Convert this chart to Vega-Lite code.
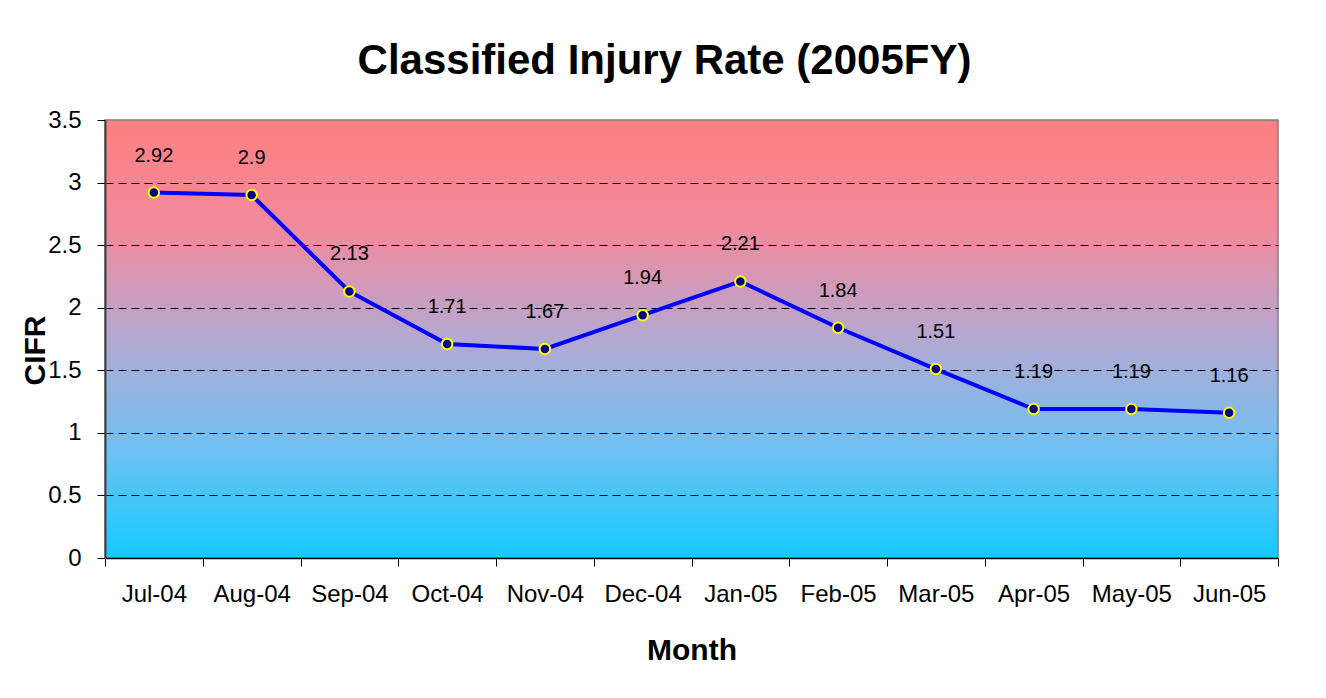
{
  "$schema": "https://vega.github.io/schema/vega-lite/v6.json",
  "width": 1173,
  "height": 438,
  "autosize": {"type": "none"},
  "padding": {"left": 105, "top": 120, "right": 48, "bottom": 140},
  "background": "white",
  "title": {
    "text": "Classified Injury Rate (2005FY)",
    "font": "Liberation Sans",
    "fontSize": 42,
    "fontWeight": "bold",
    "color": "black",
    "anchor": "middle",
    "frame": "group",
    "baseline": "alphabetic",
    "offset": 42,
    "dx": -27,
    "dy": 50
  },
  "config": {
    "font": "Liberation Sans",
    "view": {
      "stroke": "#808080",
      "strokeWidth": 1.5,
      "fill": {
        "gradient": "linear",
        "x1": 0, "y1": 0, "x2": 0, "y2": 1,
        "stops": [
          {"offset": 0, "color": "#FF8080"},
          {"offset": 0.25, "color": "#F08A9C"},
          {"offset": 0.5, "color": "#B4A9D2"},
          {"offset": 0.75, "color": "#70C0F2"},
          {"offset": 1, "color": "#14CBFF"}
        ]
      }
    }
  },
  "data": {
    "values": [
      {"month": "Jul-04", "cifr": 2.92},
      {"month": "Aug-04", "cifr": 2.9},
      {"month": "Sep-04", "cifr": 2.13},
      {"month": "Oct-04", "cifr": 1.71},
      {"month": "Nov-04", "cifr": 1.67},
      {"month": "Dec-04", "cifr": 1.94},
      {"month": "Jan-05", "cifr": 2.21},
      {"month": "Feb-05", "cifr": 1.84},
      {"month": "Mar-05", "cifr": 1.51},
      {"month": "Apr-05", "cifr": 1.19},
      {"month": "May-05", "cifr": 1.19},
      {"month": "Jun-05", "cifr": 1.16}
    ]
  },
  "encoding": {
    "x": {
      "field": "month",
      "type": "nominal",
      "sort": null,
      "scale": {"paddingInner": 0, "paddingOuter": 0},
      "axis": {
        "title": "Month",
        "titleFont": "Liberation Sans",
        "titleFontSize": 30,
        "titleFontWeight": "bold",
        "titleColor": "black",
        "titleY": 92,
        "titleBaseline": "middle",
        "labelAngle": 0,
        "labelFontSize": 24,
        "labelColor": "black",
        "labelPadding": 16,
        "tickBand": "extent",
        "tickSize": 8,
        "tickColor": "black",
        "domainColor": "black",
        "domainWidth": 1.5,
        "grid": false
      }
    },
    "y": {
      "field": "cifr",
      "type": "quantitative",
      "scale": {"domain": [0, 3.5], "nice": false},
      "axis": {
        "title": "CIFR",
        "titleFont": "Liberation Sans",
        "titleFontSize": 30,
        "titleFontWeight": "bold",
        "titleColor": "black",
        "titleX": -70,
        "titleY": 230,
        "titleAngle": -90,
        "titleBaseline": "middle",
        "titleAlign": "center",
        "values": [0, 0.5, 1, 1.5, 2, 2.5, 3, 3.5],
        "format": "~g",
        "labelFontSize": 24,
        "labelColor": "black",
        "labelPadding": 16,
        "tickSize": 8,
        "tickColor": "black",
        "domainColor": "#404040",
        "domainWidth": 2,
        "grid": true,
        "gridColor": {"condition": {"test": "datum.value >= 3.5 || datum.value <= 0", "value": "transparent"}, "value": "black"},
        "gridDash": [8, 5],
        "gridWidth": 1
      }
    }
  },
  "layer": [
    {
      "mark": {"type": "line", "color": "#0000FF", "strokeWidth": 4}
    },
    {
      "mark": {"type": "point", "filled": true, "fill": "#000080", "stroke": "#FFFF00", "strokeWidth": 2, "size": 110, "opacity": 1}
    },
    {
      "mark": {"type": "text", "fontSize": 20, "color": "black", "dy": -37, "baseline": "middle", "align": "center"},
      "encoding": {"text": {"field": "cifr", "type": "quantitative"}}
    }
  ]
}
